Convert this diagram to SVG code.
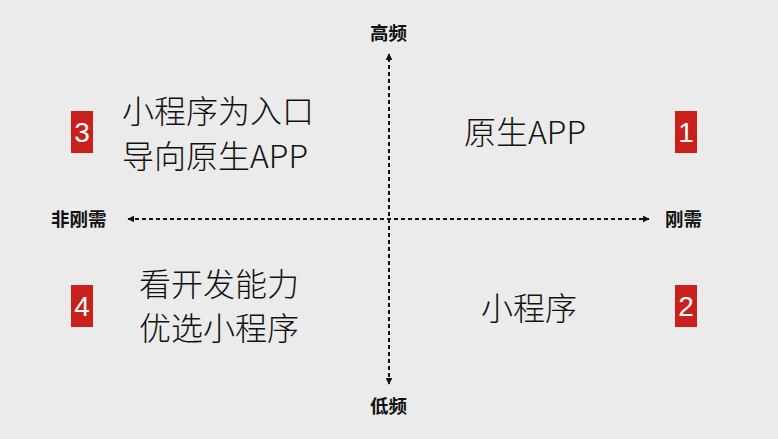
<svg xmlns="http://www.w3.org/2000/svg" width="778" height="439" viewBox="0 0 778 439">
<defs>
<style>
.bg{fill:#ebebeb}
.axis{stroke:#111;stroke-width:2;stroke-dasharray:4 3;fill:none}
.lbl{font-family:"Noto Sans CJK SC","Noto Sans",sans-serif;font-size:18.5px;font-weight:700;fill:#111}
.main{font-family:"Noto Sans CJK SC","Noto Sans",sans-serif;font-size:32px;font-weight:300;fill:#111}
.box{fill:#c9201c}
.num{font-family:"Liberation Sans","Noto Sans",sans-serif;font-size:28px;fill:#fff;text-anchor:middle}
</style>
<marker id="ah" viewBox="0 0 10 10" refX="9" refY="5" markerWidth="7" markerHeight="7" markerUnits="userSpaceOnUse" orient="auto-start-reverse">
<path d="M0,0 L10,5 L0,10 Z" fill="#111"/>
</marker>
</defs>
<rect class="bg" x="0" y="0" width="778" height="439"/>
<g id="connectors">
<line class="axis" x1="389" y1="384" x2="389" y2="54" marker-start="url(#ah)" marker-end="url(#ah)"/>
<line class="axis" x1="128" y1="219" x2="649" y2="219" marker-start="url(#ah)" marker-end="url(#ah)"/>
</g>
<g id="label-high"><text class="lbl" x="388.5" y="40" text-anchor="middle">高频</text></g>
<g id="label-low"><text class="lbl" x="388.5" y="413" text-anchor="middle">低频</text></g>
<g id="label-nonrigid"><text class="lbl" x="51" y="226">非刚需</text></g>
<g id="label-rigid"><text class="lbl" x="665" y="226">刚需</text></g>
<g id="q1">
<text class="main" x="464" y="144">原生APP</text>
<rect class="box" x="675" y="111" width="22" height="42"/>
<text class="num" x="686" y="142">1</text>
</g>
<g id="q2">
<text class="main" x="481" y="320">小程序</text>
<rect class="box" x="675" y="285" width="22" height="42"/>
<text class="num" x="686" y="316">2</text>
</g>
<g id="q3">
<text class="main" x="122" y="123">小程序为入口</text>
<text class="main" x="122" y="168">导向原生APP</text>
<rect class="box" x="71" y="111" width="22" height="42"/>
<text class="num" x="82" y="142">3</text>
</g>
<g id="q4">
<text class="main" x="139" y="296">看开发能力</text>
<text class="main" x="139" y="340">优选小程序</text>
<rect class="box" x="71" y="285" width="22" height="42"/>
<text class="num" x="82" y="316">4</text>
</g>
</svg>
